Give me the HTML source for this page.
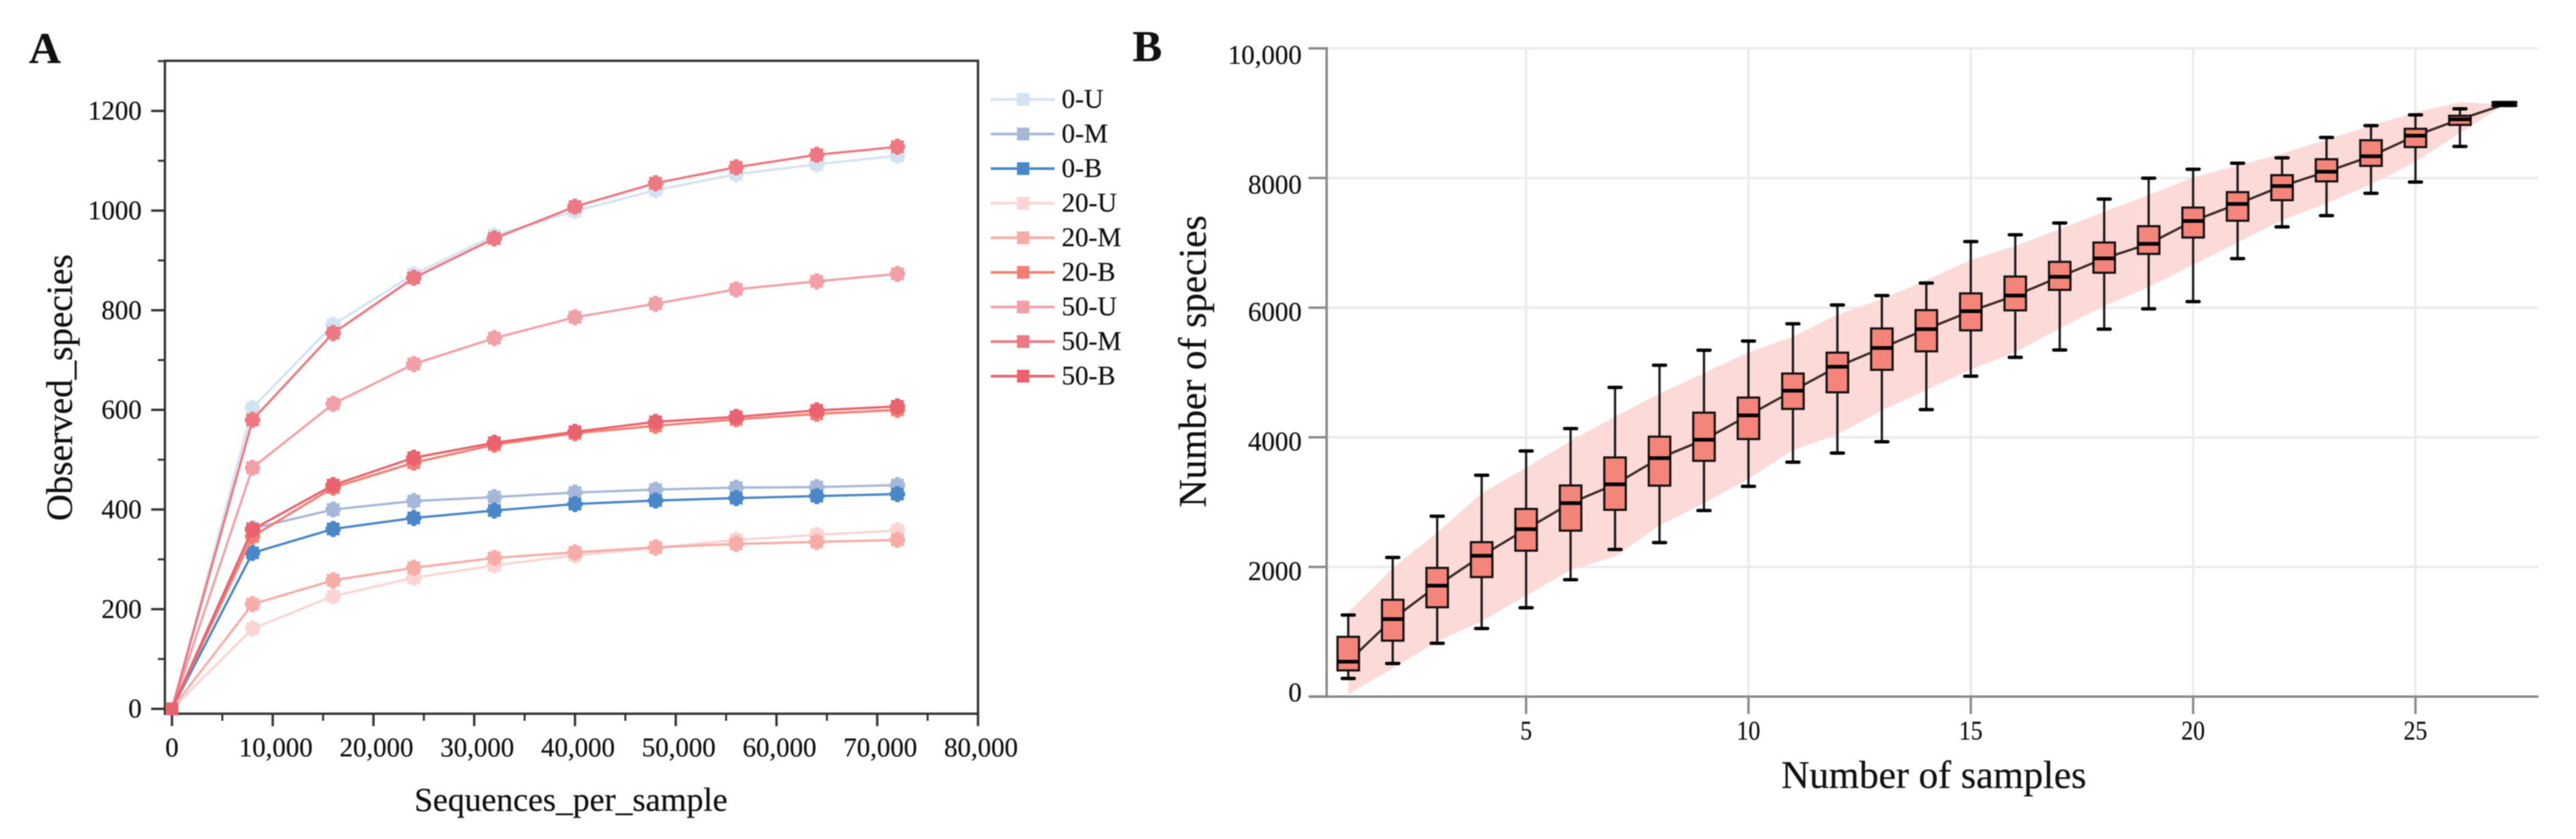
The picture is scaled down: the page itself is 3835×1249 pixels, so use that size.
<!DOCTYPE html>
<html lang="en">
<head>
<meta charset="utf-8">
<title>Rarefaction curves and species accumulation</title>
<style>
html,body{margin:0;padding:0;background:#fff;width:3835px;height:1249px;overflow:hidden}
svg{display:block;filter:blur(.8px)}
text{font-family:"Liberation Serif",serif;fill:#111;stroke:#111;stroke-width:.3px}
</style>
</head>
<body>
<svg id="figure" xmlns="http://www.w3.org/2000/svg" width="3835" height="1249" viewBox="0 0 3835 1249">
  <rect width="3835" height="1249" fill="#fff"/>
  <text x="43" y="94" font-size="66" font-weight="bold">A</text>
  <text x="1686" y="91" font-size="66" font-weight="bold">B</text>
  <text x="850" y="1207" font-size="50" text-anchor="middle">Sequences_per_sample</text>
  <text transform="translate(107 577) rotate(-90)" font-size="55" text-anchor="middle">Observed_species</text>
  <text x="2879" y="1173" font-size="58" text-anchor="middle">Number of samples</text>
  <text transform="translate(1795 538) rotate(-90)" font-size="58" text-anchor="middle">Number of species</text>
  <g id="panel-a"></g>
  <g id="panel-b"></g>
</svg>
<script>
// ---------- Panel A data ----------
const seqDepths = [0, 8000, 16000, 24000, 32000, 40000, 48000, 56000, 64000, 72000];
const seriesNames = ['0-U', '0-M', '0-B', '20-U', '20-M', '20-B', '50-U', '50-M', '50-B'];
const values0U  = [0, 604, 771, 872, 950, 999, 1041, 1073, 1093, 1110];
const values0M  = [0, 362, 400, 417, 425, 434, 440, 444, 445, 449];
const values0B  = [0, 313, 361, 383, 398, 411, 418, 423, 427, 431];
const values20U = [0, 161, 226, 263, 288, 308, 323, 339, 349, 358];
const values20M = [0, 210, 258, 283, 303, 314, 324, 331, 335, 339];
const values20B = [0, 346, 444, 494, 530, 553, 568, 581, 592, 600];
const values50U = [0, 484, 612, 692, 744, 786, 813, 842, 858, 873];
const values50M = [0, 580, 754, 865, 944, 1008, 1055, 1087, 1112, 1128];
const values50B = [0, 360, 449, 504, 534, 556, 576, 586, 599, 607];
const yTicksA = [0, 200, 400, 600, 800, 1000, 1200];
const yMinorTicksA = [100, 300, 500, 700, 900, 1100, 1300];
const xTicksA = [0, 10000, 20000, 30000, 40000, 50000, 60000, 70000, 80000];
const xMinorTicksA = [5000, 15000, 25000, 35000, 45000, 55000, 65000, 75000];

// ---------- Panel B data ----------
const sampleCounts = [1,2,3,4,5,6,7,8,9,10,11,12,13,14,15,16,17,18,19,20,21,22,23,24,25,26,27];
const whiskerHigh = [1258,2147,2783,3415,3789,4135,4770,5112,5343,5485,5751,6041,6187,6380,7019,7124,7306,7675,7997,8135,8228,8311,8626,8808,8974,9067,9165];
const boxQ3 = [922,1494,1985,2382,2895,3257,3689,4010,4380,4613,4984,5306,5679,5962,6220,6480,6707,7005,7257,7544,7782,8044,8290,8583,8759,8960,9145];
const boxMedian = [539,1196,1711,2172,2583,2984,3275,3679,3962,4338,4719,5088,5378,5668,5946,6187,6476,6760,6984,7337,7600,7876,8097,8336,8653,8906,9134];
const boxQ1 = [404,863,1378,1844,2251,2560,2881,3254,3637,3973,4438,4694,5041,5326,5650,5958,6274,6539,6829,7082,7341,7658,7948,8187,8477,8819,9125];
const whiskerLow = [280,510,822,1050,1370,1803,2269,2376,2870,3243,3617,3757,3931,4428,4943,5233,5347,5668,5982,6093,6757,7246,7420,7764,7938,8487,9119];
const bandUpper = [1300,1980,2533,3137,3530,3945,4320,4675,4993,5311,5549,5893,6132,6423,6738,6951,7211,7480,7738,8010,8192,8376,8590,8810,9010,9170,9134];
const bandLower = [40,435,850,1160,1557,1952,2160,2640,2984,3357,3803,4041,4414,4730,5046,5311,5681,6025,6315,6660,7005,7347,7610,7902,8249,8694,9134];
const yTicksB = [0, 2000, 4000, 6000, 8000, 10000];
const xTicksB = [5, 10, 15, 20, 25];

// ---------- Helpers ----------
const NS = 'http://www.w3.org/2000/svg';
function make(parent, tag, attrs, name, content) {
  const el = document.createElementNS(NS, tag);
  for (const k in attrs) el.setAttribute(k, attrs[k]);
  
  
  if (content !== undefined) el.textContent = content;
  parent.appendChild(el);
  return el;
}
const fmt = v => v >= 10000 ? v.toLocaleString('en-US') : String(v);

// ---------- Panel A ----------
const gA = document.getElementById('panel-a');
const xA = v => 256 + v * 0.015;
const yA = v => 1055.2 - v * 0.7417;
const AX = '#333';
const seriesValues = [values0U, values0M, values0B, values20U, values20M, values20B, values50U, values50M, values50B];
const seriesColors = ['#d3e3f2', '#a6b8d9', '#4a87c8', '#fad5d3', '#f7aca6', '#f37f73', '#f2a0a8', '#ec7882', '#e9636e'];

make(gA, 'rect', {x: 245.5, y: 90.5, width: 1210.5, height: 972, fill: 'none', stroke: AX, 'stroke-width': 3.5}, 'plot-frame');
yTicksA.forEach(v => {
  make(gA, 'line', {x1: 225, x2: 245, y1: yA(v), y2: yA(v), stroke: AX, 'stroke-width': 3.5}, 'y-tick');
  make(gA, 'text', {x: 211, y: yA(v) + 13, 'font-size': 40, 'text-anchor': 'end'}, 'y-tick-label', String(v));
});
yMinorTicksA.forEach(v => {
  make(gA, 'line', {x1: 235, x2: 245, y1: yA(v), y2: yA(v), stroke: AX, 'stroke-width': 3}, 'y-minor-tick');
});
xTicksA.forEach(v => {
  make(gA, 'line', {x1: xA(v), x2: xA(v), y1: 1062, y2: 1081, stroke: AX, 'stroke-width': 3.5}, 'x-tick');
  make(gA, 'text', {x: xA(v) + (v === 0 ? 0 : 4.5), y: 1126, 'font-size': 40, 'text-anchor': 'middle'}, 'x-tick-label', v === 0 ? '0' : v.toLocaleString('en-US'));
});
xMinorTicksA.forEach(v => {
  make(gA, 'line', {x1: xA(v), x2: xA(v), y1: 1062, y2: 1073, stroke: AX, 'stroke-width': 3}, 'x-minor-tick');
});

seriesNames.forEach((name, i) => {
  const color = seriesColors[i];
  const vals = seriesValues[i];
  const g = make(gA, 'g', {}, 'series-' + name);
  const pts = seqDepths.map((d, j) => xA(d) + ',' + yA(vals[j])).join(' ');
  make(g, 'polyline', {points: pts, fill: 'none', stroke: color, 'stroke-width': 3.5, 'stroke-linejoin': 'round'}, 'series-line-' + name);
  seqDepths.forEach((d, j) => {
    const cx = xA(d), cy = yA(vals[j]);
    if (j > 0) {
      make(g, 'path', {d: `M${cx - 11.5} ${cy}H${cx + 11.5}M${cx} ${cy - 12}V${cy + 12}`, stroke: color, 'stroke-width': 7, fill: 'none'}, 'point-error-' + name);
    }
    make(g, 'rect', {x: cx - 9.5, y: cy - 9.5, width: 19, height: 19, fill: color}, 'point-' + name);
  });
  // legend entry
  const ly = 148 + i * 51.5;
  const lg = make(gA, 'g', {}, 'legend-entry-' + name);
  make(lg, 'line', {x1: 1475, x2: 1570, y1: ly, y2: ly, stroke: color, 'stroke-width': 4}, 'legend-line-' + name);
  make(lg, 'rect', {x: 1514, y: ly - 9.5, width: 18.5, height: 19, fill: color}, 'legend-marker-' + name);
  make(lg, 'text', {x: 1580.5, y: ly + 12.5, 'font-size': 40}, 'legend-label-' + name, name);
});

// ---------- Panel B ----------
const gB = document.getElementById('panel-b');
const xB = n => 2272 + (n - 5) * 66.2;
const yB = v => 1037 - v * 0.0965;
const GRID = '#ebebeb', AXB = '#888';

yTicksB.forEach(v => {
  if (v > 0) make(gB, 'line', {x1: 1975, x2: 3779, y1: yB(v), y2: yB(v), stroke: GRID, 'stroke-width': 3.5}, 'horizontal-gridline');
});
xTicksB.forEach(n => {
  make(gB, 'line', {x1: xB(n), x2: xB(n), y1: 72, y2: 1037, stroke: GRID, 'stroke-width': 3.5}, 'vertical-gridline');
});

const upperPath = sampleCounts.map((n, i) => xB(n) + ',' + yB(bandUpper[i]));
const lowerPath = sampleCounts.map((n, i) => xB(n) + ',' + yB(bandLower[i])).reverse();
make(gB, 'polygon', {points: upperPath.concat(lowerPath).join(' '), fill: '#fcdad7'}, 'confidence-band');

make(gB, 'line', {x1: 1975, x2: 1975, y1: 70, y2: 1039, stroke: AXB, 'stroke-width': 3.5}, 'y-axis-line');
make(gB, 'line', {x1: 1948, x2: 3779, y1: 1037, y2: 1037, stroke: AXB, 'stroke-width': 3.5}, 'x-axis-line');
yTicksB.forEach(v => {
  const dy = v === 0 ? 7 : (v >= 8000 ? 23 : 19.5);
  make(gB, 'line', {x1: 1948, x2: 1975, y1: yB(v), y2: yB(v), stroke: AXB, 'stroke-width': 3.5}, 'y-tick');
  make(gB, 'text', {x: 1938, y: yB(v) + dy, 'font-size': 40, 'text-anchor': 'end'}, 'y-tick-label', fmt(v));
});
xTicksB.forEach(n => {
  make(gB, 'line', {x1: xB(n), x2: xB(n), y1: 1037, y2: 1063, stroke: AXB, 'stroke-width': 3.5}, 'x-tick');
  make(gB, 'text', {transform: `translate(${xB(n)} 1101) scale(.88 1)`, 'font-size': 40, 'text-anchor': 'middle'}, 'x-tick-label', String(n));
});

const medianPts = sampleCounts.map((n, i) => xB(n) + ',' + yB(boxMedian[i])).join(' ');
make(gB, 'polyline', {points: medianPts, fill: 'none', stroke: '#3a2a28', 'stroke-width': 3.5}, 'median-trend-line');

sampleCounts.forEach((n, i) => {
  const g = make(gB, 'g', {}, 'box-sample-' + n);
  const cx = xB(n);
  const capW = i === sampleCounts.length - 1 ? 17 : 9;
  make(g, 'line', {x1: cx, x2: cx, y1: yB(whiskerHigh[i]), y2: yB(whiskerLow[i]), stroke: '#1a1a1a', 'stroke-width': 3.4}, 'whisker');
  make(g, 'line', {x1: cx - capW, x2: cx + capW, y1: yB(whiskerHigh[i]), y2: yB(whiskerHigh[i]), stroke: '#000', 'stroke-width': 5, 'stroke-linecap': 'round'}, 'whisker-cap-high');
  make(g, 'line', {x1: cx - capW, x2: cx + capW, y1: yB(whiskerLow[i]), y2: yB(whiskerLow[i]), stroke: '#000', 'stroke-width': 5, 'stroke-linecap': 'round'}, 'whisker-cap-low');
  make(g, 'rect', {x: cx - 16, y: yB(boxQ3[i]), width: 32, height: yB(boxQ1[i]) - yB(boxQ3[i]), fill: '#f4857a', stroke: '#111', 'stroke-width': 3.2}, 'box');
  make(g, 'line', {x1: cx - 16, x2: cx + 16, y1: yB(boxMedian[i]), y2: yB(boxMedian[i]), stroke: '#000', 'stroke-width': 5.5}, 'median-bar');
});
</script>
</body>
</html>
